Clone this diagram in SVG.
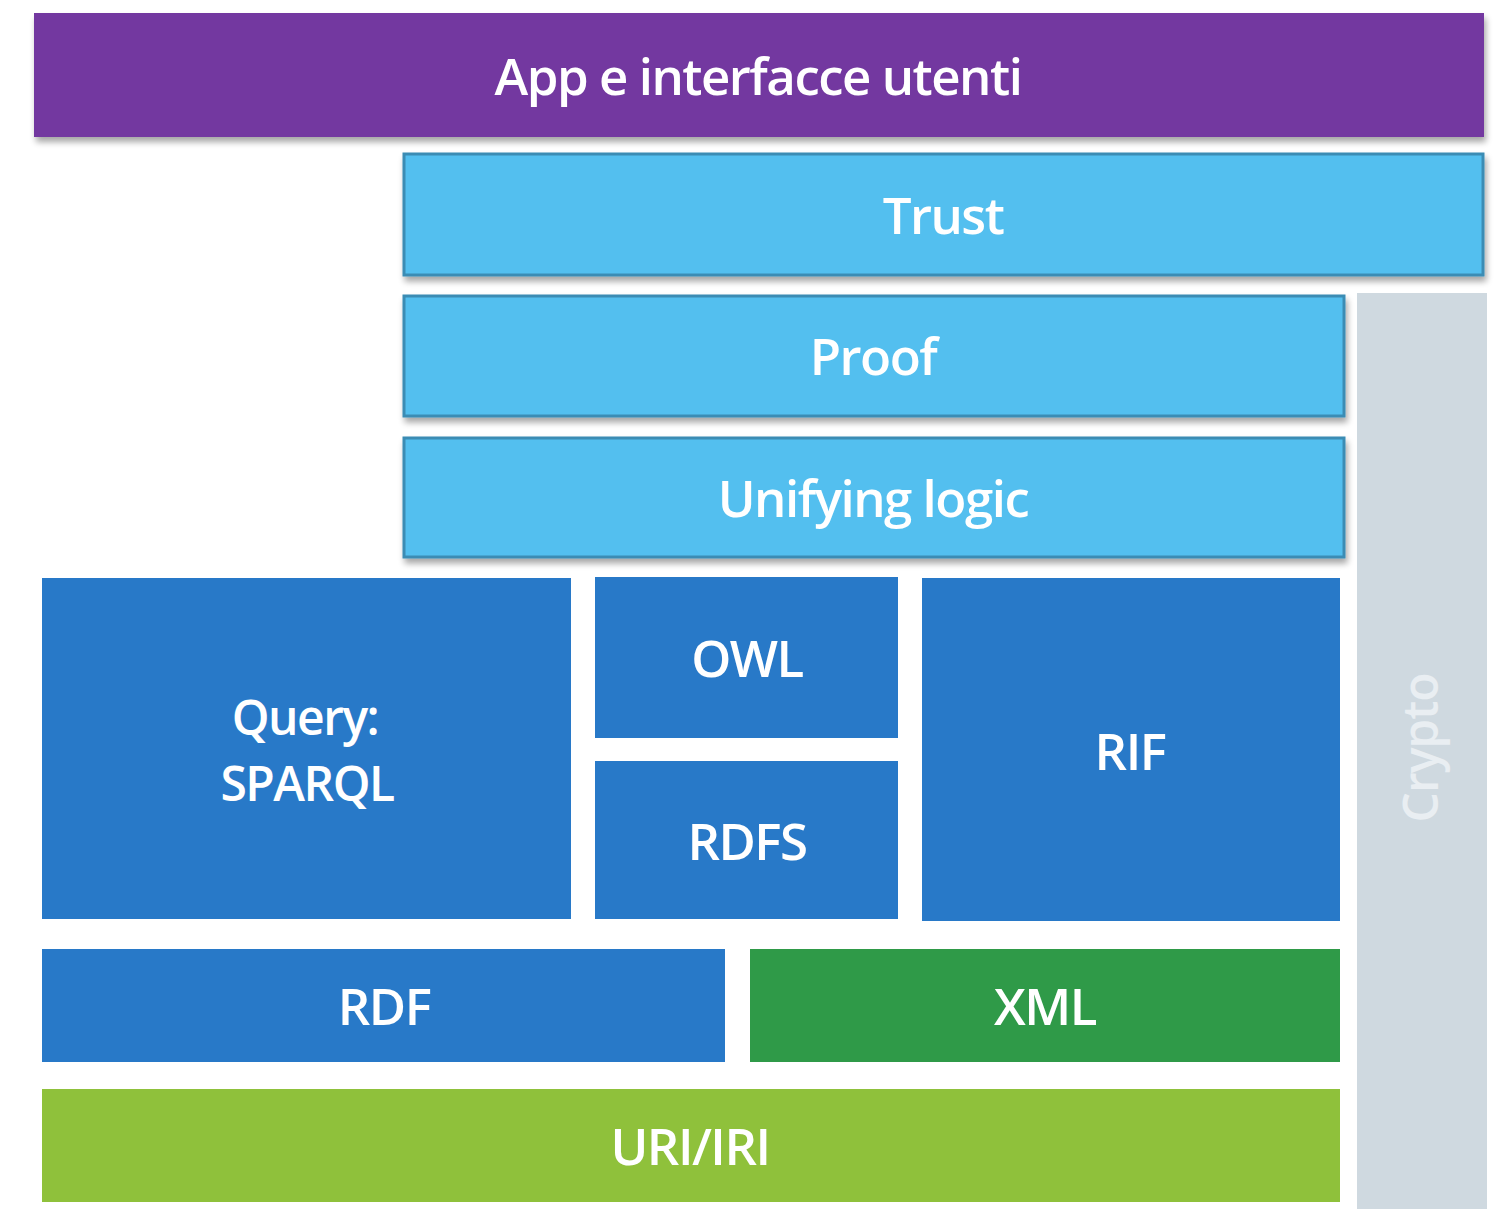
<svg xmlns="http://www.w3.org/2000/svg" width="1503" height="1209" viewBox="0 0 1503 1209">
<defs>
<filter id="sh" x="-5%" y="-20%" width="110%" height="150%">
<feGaussianBlur in="SourceAlpha" stdDeviation="3"/>
<feOffset dx="2" dy="5" result="o"/>
<feComponentTransfer><feFuncA type="linear" slope="0.35"/></feComponentTransfer>
<feMerge><feMergeNode/><feMergeNode in="SourceGraphic"/></feMerge>
</filter>
<style>
text{font-family:"Open Sans","DejaVu Sans",sans-serif;fill:#ffffff;text-anchor:middle;font-size:51px;font-weight:600;letter-spacing:-1.5px}
.q{font-size:48px}
.purple{fill:#7339A0}
.light{fill:#52BFEF;stroke:#3A8CB4;stroke-width:3}
.blue{fill:#2879C8}
.green{fill:#2F9A48}
.lime{fill:#8FC13B}
.gray{fill:#CFD9E0}
</style>
</defs>
<rect width="1503" height="1209" fill="#ffffff"/>
<g id="app"><rect class="purple" x="34" y="13" width="1450" height="124" filter="url(#sh)"/><text x="758" y="95">App e interfacce utenti</text></g>
<g id="trust"><rect class="light" x="404" y="154" width="1079" height="121" filter="url(#sh)"/><text x="943" y="234">Trust</text></g>
<g id="crypto"><rect class="gray" x="1357" y="293" width="130" height="916"/><text x="1438" y="748" transform="rotate(-90 1438 748)" style="fill:#E9EEF2;font-size:48px;letter-spacing:-1px">Crypto</text></g>
<g id="proof"><rect class="light" x="404" y="296" width="940" height="120" filter="url(#sh)"/><text x="873" y="375">Proof</text></g>
<g id="unifying"><rect class="light" x="404" y="438" width="940" height="119" filter="url(#sh)"/><text x="873" y="517">Unifying logic</text></g>
<g id="query"><rect class="blue" x="42" y="578" width="529" height="341"/><text class="q" x="305" y="735">Query:</text><text class="q" x="307" y="801">SPARQL</text></g>
<g id="owl"><rect class="blue" x="595" y="577" width="303" height="161"/><text x="747" y="677">OWL</text></g>
<g id="rdfs"><rect class="blue" x="595" y="761" width="303" height="158"/><text x="747" y="860">RDFS</text></g>
<g id="rif"><rect class="blue" x="922" y="578" width="418" height="343"/><text x="1130" y="770">RIF</text></g>
<g id="rdf"><rect class="blue" x="42" y="949" width="683" height="113"/><text x="384" y="1025">RDF</text></g>
<g id="xml"><rect class="green" x="750" y="949" width="590" height="113"/><text x="1045" y="1025">XML</text></g>
<g id="uri"><rect class="lime" x="42" y="1089" width="1298" height="113"/><text x="690" y="1165">URI/IRI</text></g>
<g id="connectors"></g>
</svg>
